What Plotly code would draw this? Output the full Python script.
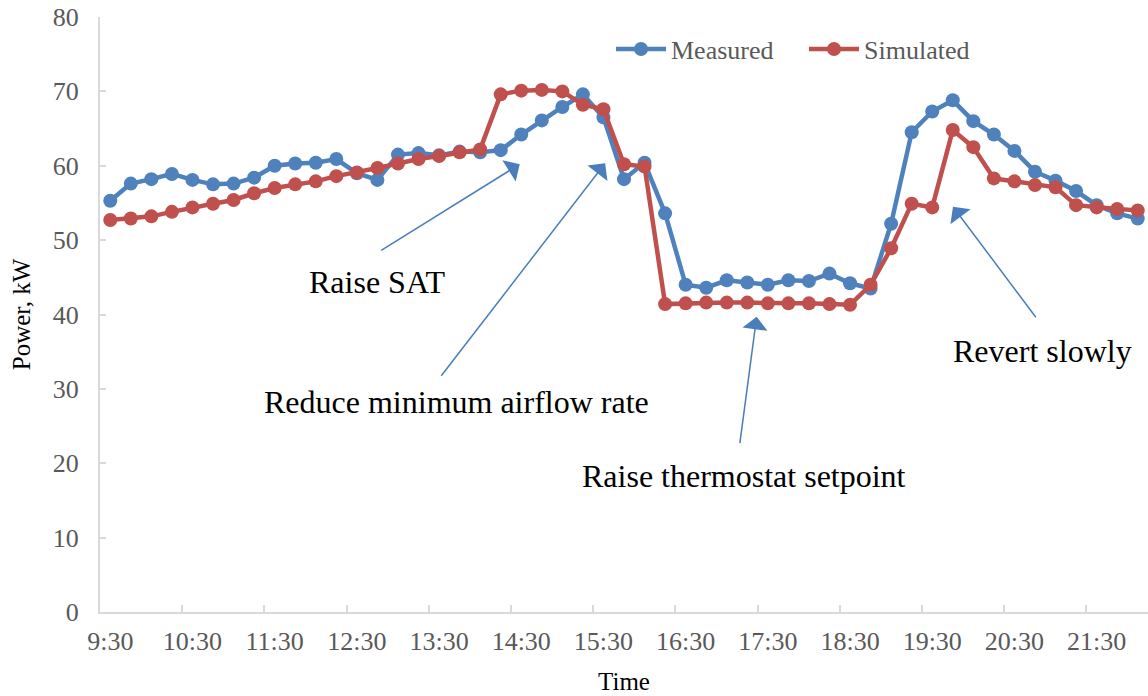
import plotly.graph_objects as go

times = ["9:30", "9:45", "10:00", "10:15", "10:30", "10:45", "11:00", "11:15",
         "11:30", "11:45", "12:00", "12:15", "12:30", "12:45", "13:00", "13:15",
         "13:30", "13:45", "14:00", "14:15", "14:30", "14:45", "15:00", "15:15",
         "15:30", "15:45", "16:00", "16:15", "16:30", "16:45", "17:00", "17:15",
         "17:30", "17:45", "18:00", "18:15", "18:30", "18:45", "19:00", "19:15",
         "19:30", "19:45", "20:00", "20:15", "20:30", "20:45", "21:00", "21:15",
         "21:30", "21:45", "22:00"]

measured = [55.3, 57.6, 58.2, 58.9, 58.1, 57.5, 57.6, 58.4, 60.0, 60.3,
            60.4, 60.9, 59.0, 58.1, 61.5, 61.7, 61.4, 61.9, 61.8, 62.1,
            64.2, 66.1, 67.9, 69.6, 66.5, 58.2, 60.4, 53.6, 44.0, 43.6,
            44.6, 44.3, 44.0, 44.6, 44.5, 45.5, 44.2, 43.5, 52.2, 64.5,
            67.3, 68.8, 66.0, 64.2, 62.0, 59.2, 58.0, 56.6, 54.7, 53.6,
            52.9]

simulated = [52.7, 52.9, 53.2, 53.8, 54.4, 54.9, 55.4, 56.3, 57.0, 57.5,
             57.9, 58.6, 59.1, 59.7, 60.3, 60.9, 61.3, 61.8, 62.2, 69.6,
             70.1, 70.2, 70.0, 68.2, 67.6, 60.2, 59.9, 41.4, 41.5, 41.6,
             41.6, 41.6, 41.5, 41.5, 41.5, 41.4, 41.3, 44.0, 48.9, 54.9,
             54.4, 64.8, 62.5, 58.3, 57.9, 57.4, 57.1, 54.7, 54.4, 54.2,
             54.0]

BLUE = "#4f81bd"
RED = "#c0504d"
ARROW = "#4a7ebb"
FONT = "Liberation Serif, Times New Roman, serif"

fig = go.Figure()
fig.add_trace(go.Scatter(x=times, y=measured, name="Measured", mode="lines+markers",
                         line=dict(color=BLUE, width=4.5),
                         marker=dict(color=BLUE, size=14)))
fig.add_trace(go.Scatter(x=times, y=simulated, name="Simulated", mode="lines+markers",
                         line=dict(color=RED, width=4.5),
                         marker=dict(color=RED, size=14)))

# arrows (head position in paper coords, tail offset in pixels)
arrows = [
    (0.4005, 0.7526, -140, 87),
    (0.4820, 0.7541, -165, 214),
    (0.6266, 0.4963, -17, 128),
    (0.8139, 0.6812, 84, 112),
]
for hx, hy, ax, ay in arrows:
    fig.add_annotation(x=hx, y=hy, xref="paper", yref="paper", text="",
                       showarrow=True, ax=ax, ay=ay, axref="pixel", ayref="pixel",
                       arrowhead=1, arrowsize=2.8, arrowwidth=1.5, arrowcolor=ARROW,
                       standoff=0, startstandoff=0)

labels = [
    ("Raise SAT", 377, 282),
    ("Reduce minimum airflow rate", 456, 402),
    ("Raise thermostat setpoint", 744, 476),
    ("Revert slowly", 1042, 351),
]
for txt, px, py in labels:
    fig.add_annotation(x=(px - 100) / 1048, y=(612 - py) / 595, xref="paper", yref="paper",
                       text=txt, showarrow=False, xanchor="center", yanchor="middle",
                       font=dict(family=FONT, size=32, color="#000000"))

fig.update_layout(
    width=1148, height=696,
    margin=dict(l=100, r=0, t=17, b=84, autoexpand=False),
    plot_bgcolor="white", paper_bgcolor="white",
    font=dict(family=FONT, size=26, color="#595959"),
    showlegend=True,
    legend=dict(orientation="h", x=0.4876, y=0.946, xanchor="left", yanchor="middle",
                font=dict(family=FONT, size=26, color="#595959"),
                bgcolor="rgba(0,0,0,0)", itemwidth=50, tracegroupgap=0,
                entrywidth=128, entrywidthmode="pixels"),
    xaxis=dict(type="category", range=[-0.5, 50.5], dtick=4, tickson="boundaries",
               automargin=False, tickangle=0,
               showgrid=False, zeroline=False, showline=True, linecolor="#d9d9d9",
               linewidth=2, ticks="inside", ticklen=7, tickcolor="#d9d9d9", tickwidth=2,
               tickfont=dict(family=FONT, size=26, color="#595959"),
               ticklabelstandoff=5,
               title=dict(text="Time", font=dict(family=FONT, size=25, color="#000000"),
                          standoff=17)),
    yaxis=dict(range=[0, 80], dtick=10, showgrid=False, zeroline=False, showline=True,
               automargin=False,
               linecolor="#d9d9d9", linewidth=2, ticks="inside", ticklen=6,
               tickcolor="#d9d9d9", tickwidth=2,
               tickfont=dict(family=FONT, size=26, color="#595959"),
               ticklabelstandoff=14,
               title=dict(text="Power, kW", font=dict(family=FONT, size=25, color="#000000"),
                          standoff=15)),
)

fig.write_html("out.html", config={"displayModeBar": False},
               post_script="document.body.style.margin='0';")
